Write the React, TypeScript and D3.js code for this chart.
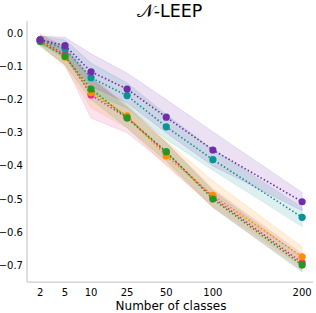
import * as d3 from 'd3'

const classes = [2, 5, 10, 25, 50, 100, 200]
const yTicks = [0, -0.1, -0.2, -0.3, -0.4, -0.5, -0.6, -0.7]

// series mean values and band edges, drawn in this order
const names = ['pink', 'orange', 'green', 'teal', 'purple']
const colors = ['#e7298a', '#ff8c00', '#229922', '#0a9396', '#6f2da8']

const pinkMean = [-0.02, -0.065, -0.186, -0.255, -0.36, -0.495, -0.692]
const pinkUpper = [-0.005, -0.04, -0.13, -0.22, -0.33, -0.47, -0.665]
const pinkLower = [-0.035, -0.095, -0.256, -0.3, -0.395, -0.525, -0.715]

const orangeMean = [-0.02, -0.072, -0.179, -0.249, -0.37, -0.489, -0.674]
const orangeUpper = [0.0, -0.045, -0.14, -0.215, -0.325, -0.445, -0.644]
const orangeLower = [-0.035, -0.1, -0.225, -0.285, -0.4, -0.52, -0.705]

const greenMean = [-0.025, -0.07, -0.168, -0.255, -0.357, -0.5, -0.699]
const greenUpper = [-0.01, -0.05, -0.135, -0.225, -0.33, -0.475, -0.675]
const greenLower = [-0.04, -0.095, -0.2, -0.285, -0.385, -0.525, -0.72]

const tealMean = [-0.02, -0.047, -0.134, -0.188, -0.282, -0.381, -0.555]
const tealUpper = [-0.008, -0.02, -0.09, -0.15, -0.245, -0.35, -0.525]
const tealLower = [-0.032, -0.075, -0.18, -0.225, -0.32, -0.413, -0.583]

const purpleMean = [-0.02, -0.037, -0.116, -0.168, -0.253, -0.352, -0.508]
const purpleUpper = [-0.008, -0.012, -0.062, -0.12, -0.2, -0.297, -0.48]
const purpleLower = [-0.032, -0.065, -0.16, -0.21, -0.3, -0.4, -0.535]

const means = [pinkMean, orangeMean, greenMean, tealMean, purpleMean]
const uppers = [pinkUpper, orangeUpper, greenUpper, tealUpper, purpleUpper]
const lowers = [pinkLower, orangeLower, greenLower, tealLower, purpleLower]

const W = 316
const H = 313
const left = 27
const right = 313
const top = 21
const bottom = 282

// the x axis is stretched unevenly; stops given as fraction of plot width
const xStops = [0.046, 0.133, 0.224, 0.35, 0.487, 0.65, 0.962]
const x = d3.scaleLinear()
  .domain(classes)
  .range(xStops.map(f => left + f * (right - left)))

const y = d3.scaleLinear()
  .domain([-0.75, 0.037])
  .range([bottom, top])

export default function App() {
  const line = d3.line<number>()
    .x((_, i) => x(classes[i]))
    .y(d => y(d))

  return (
    <svg width={W} height={H} style={{ position: 'absolute', left: 0, top: 0, background: '#fff' }}
      fontFamily="DejaVu Sans, sans-serif">
      <text x={169.5} y={16.5} textAnchor="middle" fontSize={17.5}>𝒩-LEEP</text>

      {names.map((n, k) => {
        const area = d3.area<number>()
          .x((_, i) => x(classes[i]))
          .y0((_, i) => y(lowers[k][i]))
          .y1(d => y(d))
        return <path key={n + '-band'} d={area(uppers[k]) || ''} fill={colors[k]} fillOpacity={0.14}
          stroke={colors[k]} strokeOpacity={0.15} strokeWidth={0.8} />
      })}

      {names.map((n, k) => (
        <g key={n}>
          <path d={line(means[k]) || ''} fill="none" stroke={colors[k]} strokeWidth={1.6}
            strokeDasharray="1.5,2.2" />
          {means[k].map((v, i) => (
            <circle key={i} cx={x(classes[i])} cy={y(v)} r={3.6} fill={colors[k]} />
          ))}
        </g>
      ))}

      <line x1={left} x2={left} y1={top} y2={bottom} stroke="#cccccc" strokeWidth={1.25} />
      <line x1={left} x2={right} y1={bottom} y2={bottom} stroke="#cccccc" strokeWidth={1.25} />

      {yTicks.map(t => (
        <text key={t} x={23} y={y(t)} dy="0.35em" textAnchor="end" fontSize={10}>
          {t === 0 ? '0.0' : '\u2212' + Math.abs(t).toFixed(1)}
        </text>
      ))}
      {classes.map(c => (
        <text key={c} x={x(c)} y={296} textAnchor="middle" fontSize={10}>{c}</text>
      ))}
      <text x={171} y={309.5} textAnchor="middle" fontSize={12}>Number of classes</text>
    </svg>
  )
}
